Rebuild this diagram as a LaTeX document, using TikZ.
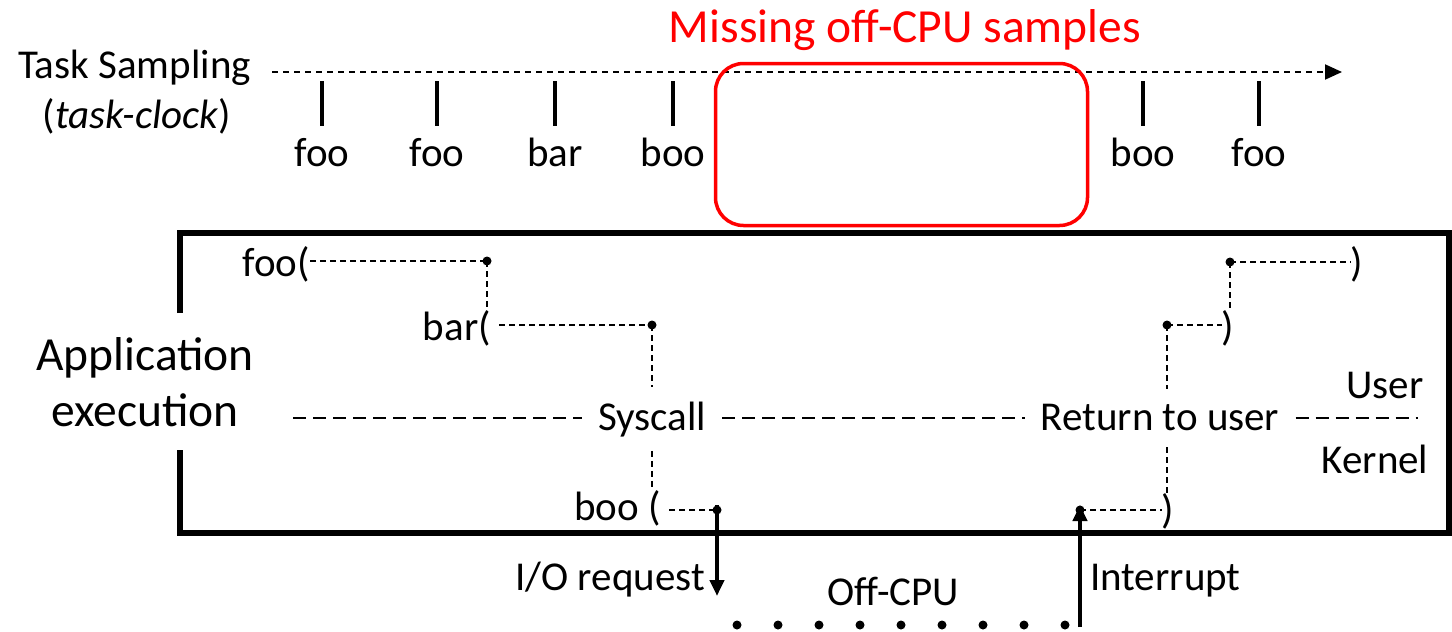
\documentclass[tikz,border=0pt]{standalone}
\usepackage{fontspec}
\setmainfont{Carlito}
\usetikzlibrary{arrows.meta}
\begin{document}
\begin{tikzpicture}[x=1pt,y=-1pt,
  lbl/.style={inner sep=0pt, font=\fontsize{41}{49}\selectfont},
  big/.style={inner sep=0pt, font=\fontsize{47.5}{56}\selectfont},
  fine/.style={line width=2pt, dash pattern=on 6pt off 4pt},
  mode/.style={line width=2pt, dash pattern=on 13pt off 7pt},
  tick/.style={line width=3.5pt},
  dot/.style={circle, fill, inner sep=0pt, minimum size=9pt},
  flow/.style={line width=4pt, -{Triangle[length=16pt,width=14pt]}},
  gap/.style={inner xsep=16pt, inner ysep=14pt},
]
\useasboundingbox (0,0) rectangle (1452,632);

% sampling timeline
\node[lbl, anchor=base west] (ts) at (18,78) {Task Sampling};
\node[lbl, anchor=base] (tc) at (137,128) {(\textit{task-clock})};
\coordinate (t0) at (272,72);
\coordinate (t1) at (1342,72);
\draw[line width=2pt, dash pattern=on 6pt off 5pt, -{Triangle[length=17pt,width=15pt]}] (t0) -- (t1);
\foreach \x/\t [count=\i] in {322/foo,437/foo,555/bar,673/boo,1143/boo,1259/foo} {
  \coordinate (k\i) at (\x,81);
  \node[lbl, anchor=base] (s\i) at (\x,166) {\t};
  \draw[tick] (k\i) -- ++(0,45);
}

% gap in the samples
\node[draw=red, line width=3.5pt, rounded corners=28pt, minimum width=372pt, minimum height=162pt] (miss) at (901.5,144.5) {};
\node[big, text=red, anchor=base] (misslbl) at (905,42) {Missing off-CPU samples};

% execution frame
\draw[line width=6pt, line join=miter] (180,313) -- (180,233) -- (1449,233) -- (1449,533) -- (180,533) -- (180,450);
\node[big, anchor=base] (app1) at (145,370) {Application};
\node[big, anchor=base] (app2) at (145,426) {execution};

% user / kernel boundary
\node[lbl, anchor=base, gap] (sys) at (652,430) {Syscall};
\node[lbl, anchor=base, gap] (ret) at (1160,430) {Return to user};
\coordinate (m0) at (293,418);
\coordinate (m1) at (1418,418);
\draw[mode] (m0) -- (sys.west |- m0);
\draw[mode] (sys.east |- m0) -- (ret.west |- m0);
\draw[mode] (ret.east |- m0) -- (m1);
\node[lbl, anchor=base] (user) at (1385,398) {User};
\node[lbl, anchor=base] (kern) at (1375,473) {Kernel};

% call path down
\node[lbl, anchor=base east] (foo) at (310,276) {foo(};
\coordinate (d1) at (487,261);
\draw[fine] (foo.east |- d1) -- (d1);
\node[lbl, anchor=base east] (bar) at (491,340) {bar(};
\draw[fine] (d1) -- (d1 |- bar.north);
\coordinate (d2) at (652,325);
\draw[fine] ([xshift=8pt]bar.east |- d2) -- (d2);
\draw[fine] (d2) -- (sys.north);
\node[lbl, anchor=base east] (boo) at (661,520) {boo (};
\draw[fine] (sys.south) -- (sys.south |- boo.north);
\coordinate (d3) at (717,510);
\draw[fine] ([xshift=8pt]boo.east |- d3) -- (d3);

% off-CPU interval
\coordinate (io) at (717,596);
\draw[flow] ([yshift=5pt]d3) -- (io);
\node[lbl, anchor=base east] (iolbl) at (705,590) {I/O request};
\foreach \i in {0,...,8} \node[dot] (o\i) at (737+41*\i,625) {};
\node[lbl, anchor=base] (offcpu) at (893,605) {Off-CPU};
\coordinate (ir) at (1080,627);
\coordinate (d4) at (1080,510);
\draw[flow] (ir) -- ([yshift=5pt]d4);
\node[lbl, anchor=base west] (irlbl) at (1090,590) {Interrupt};

% call path up
\node[lbl, anchor=base] (c3) at (1168,523) {)};
\draw[fine] (d4) -- (c3.west |- d4);
\coordinate (d5) at (1167,325);
\draw[fine] (d5 |- c3.north) -- (d5 |- ret.south);
\draw[fine] (d5) -- (d5 |- ret.north);
\node[lbl, anchor=base] (c2) at (1228,340) {)};
\draw[fine] (d5) -- (c2.west |- d5);
\coordinate (d6) at (1230,262);
\draw[fine] (d6) -- (d6 |- c2.north);
\node[lbl, anchor=base] (c1) at (1357,276) {)};
\draw[fine] (d6) -- (c1.west |- d6);

\foreach \d in {d1,d2,d3,d4,d5,d6} \node[dot] at (\d) {};
\end{tikzpicture}
\end{document}
